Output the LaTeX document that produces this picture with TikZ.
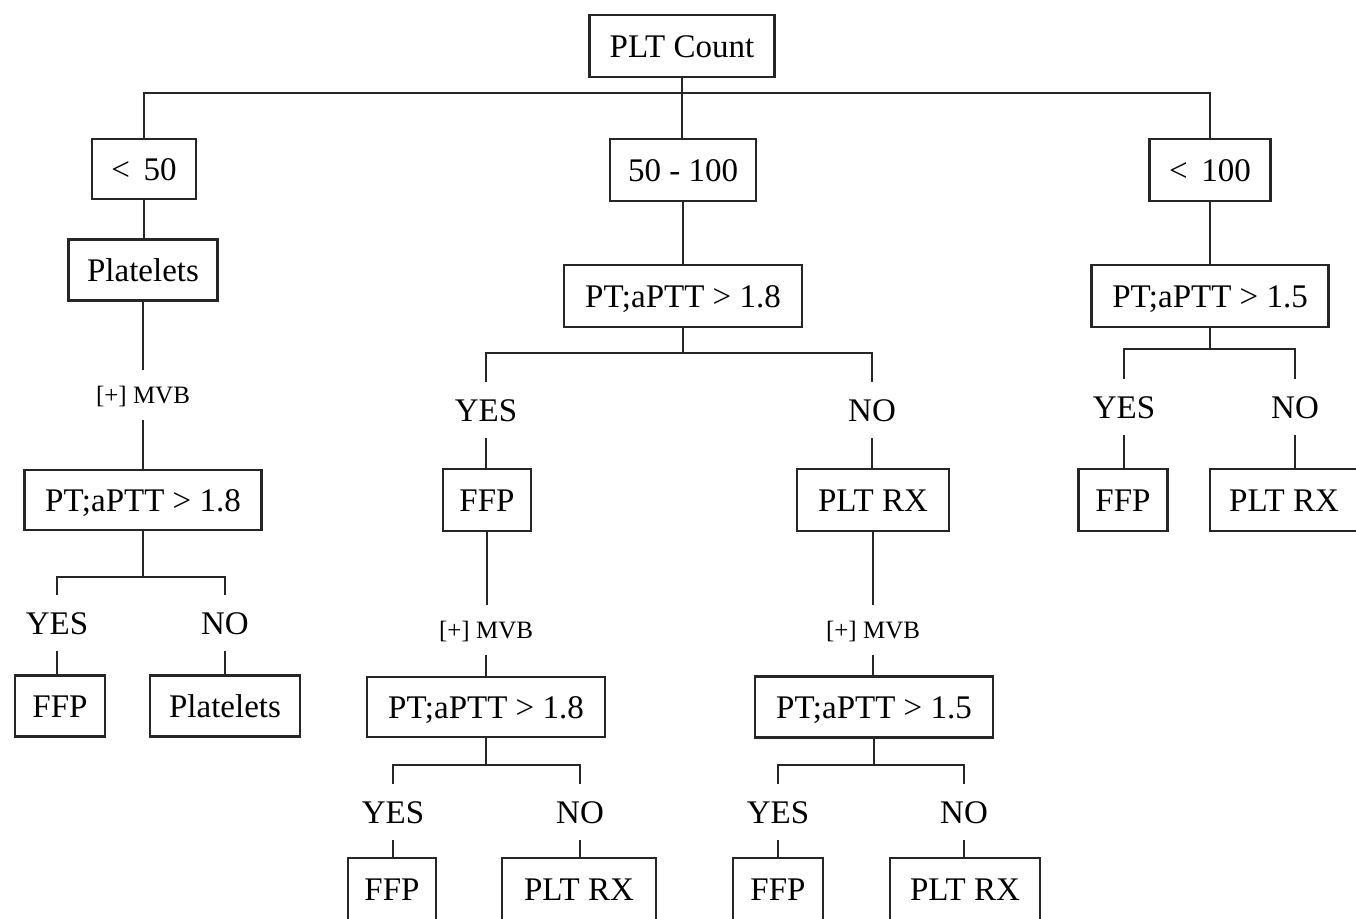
\documentclass[tikz,border=0pt]{standalone}
\usepackage{fontspec}
\setmainfont{Liberation Serif}
\begin{document}
\begin{tikzpicture}[x=1pt,y=-1pt,
  box/.style={draw=black!85, line width=2.4pt, minimum height=61pt, inner sep=0pt, font=\fontsize{33}{38}\selectfont, text height=22pt, text depth=0pt},
  lab/.style={inner xsep=4pt, inner ysep=17pt, font=\fontsize{33}{38}\selectfont, text height=22pt, text depth=0pt},
  mvb/.style={inner xsep=4pt, inner ysep=16pt, font=\fontsize{25}{29}\selectfont, text height=17pt, text depth=0pt},
  conn/.style={draw=black!85, line width=2.2pt}]
\useasboundingbox (0,0) rectangle (1356,918);
\fill[white] (0,0) rectangle (1356,918);
\clip (0,0) rectangle (1356,918);

% top level
\node[box, minimum width=185pt, minimum height=62pt] (count) at (682,46) {PLT Count};
\node[box, minimum width=104pt, minimum height=60pt] (r1) at (144,169) {<\, 50};
\node[box, minimum width=146pt, minimum height=62pt] (r2) at (683,170) {50 - 100};
\node[box, minimum width=121pt, minimum height=62pt] (r3) at (1210,170) {<\, 100};
\coordinate (j0) at (682,93);

% left branch
\node[box, minimum width=149pt] (plt1) at (143,270) {Platelets};
\node[mvb] (mvb1) at (143,395) {[+] MVB};
\node[box, minimum width=237pt, minimum height=60pt] (q1) at (143,500) {PT;aPTT > 1.8};
\coordinate (b1) at (143,577);
\node[lab] (y1) at (57,623) {YES};
\node[lab] (n1) at (225,623) {NO};
\node[box, minimum width=90pt] (f1) at (60,706) {FFP};
\node[box, minimum width=150pt] (p1) at (225,706) {Platelets};

% middle branch
\node[box, minimum width=238pt, minimum height=62pt] (q2) at (683,296) {PT;aPTT > 1.8};
\coordinate (b2) at (683,353);
\node[lab] (y2) at (486,410) {YES};
\node[lab] (n2) at (872,410) {NO};
\node[box, minimum width=88pt, minimum height=62pt] (f2) at (487,500) {FFP};
\node[box, minimum width=152pt, minimum height=62pt] (x2) at (873,500) {PLT RX};
\node[mvb] (mvb2) at (486,630) {[+] MVB};
\node[mvb] (mvb3) at (873,630) {[+] MVB};
\node[box, minimum width=238pt, minimum height=60pt] (q3) at (486,707) {PT;aPTT > 1.8};
\node[box, minimum width=238pt, minimum height=61pt] (q4) at (874,707) {PT;aPTT > 1.5};
\coordinate (b3) at (486,765);
\coordinate (b4) at (874,765);
\node[lab] (y3) at (393,812) {YES};
\node[lab] (n3) at (580,812) {NO};
\node[lab] (y4) at (778,812) {YES};
\node[lab] (n4) at (964,812) {NO};
\node[box, minimum width=88pt, minimum height=62pt] (f3) at (392,889) {FFP};
\node[box, minimum width=154pt, minimum height=62pt] (x3) at (579,889) {PLT RX};
\node[box, minimum width=90pt, minimum height=62pt] (f4) at (778,889) {FFP};
\node[box, minimum width=150pt, minimum height=62pt] (x4) at (965,889) {PLT RX};

% right branch
\node[box, minimum width=237pt, minimum height=62pt] (q5) at (1210,296) {PT;aPTT > 1.5};
\coordinate (b5) at (1210,349);
\node[lab] (y5) at (1124,407) {YES};
\node[lab] (n5) at (1295,407) {NO};
\node[box, minimum width=89pt, minimum height=62pt] (f5) at (1123,500) {FFP};
\node[box, minimum width=148pt, minimum height=62pt] (x5) at (1284,500) {PLT RX};

% connectors: top
\draw[conn] (count.south) -- (count.south |- r2.north);
\draw[conn] (r1.north) -- (r1.north |- j0) -- (r3.north |- j0) -- (r3.north);

% left
\draw[conn] (r1.south) -- (r1.south |- plt1.north);
\draw[conn] (plt1.south) -- (plt1.south |- mvb1.north);
\draw[conn] (mvb1.south) -- (mvb1.south |- q1.north);
\draw[conn] (q1.south) -- (b1);
\draw[conn] (y1.north) -- (y1.north |- b1) -- (n1.north |- b1) -- (n1.north);
\draw[conn] (y1.south) -- (y1.south |- f1.north);
\draw[conn] (n1.south) -- (n1.south |- p1.north);

% middle
\draw[conn] (r2.south) -- (r2.south |- q2.north);
\draw[conn] (q2.south) -- (b2);
\draw[conn] (y2.north) -- (y2.north |- b2) -- (n2.north |- b2) -- (n2.north);
\draw[conn] (y2.south) -- (y2.south |- f2.north);
\draw[conn] (n2.south) -- (n2.south |- x2.north);
\draw[conn] (f2.south) -- (f2.south |- mvb2.north);
\draw[conn] (mvb2.south) -- (mvb2.south |- q3.north);
\draw[conn] (x2.south) -- (x2.south |- mvb3.north);
\draw[conn] (mvb3.south) -- (mvb3.south |- q4.north);
\draw[conn] (q3.south) -- (b3);
\draw[conn] (y3.north) -- (y3.north |- b3) -- (n3.north |- b3) -- (n3.north);
\draw[conn] (y3.south) -- (y3.south |- f3.north);
\draw[conn] (n3.south) -- (n3.south |- x3.north);
\draw[conn] (q4.south) -- (b4);
\draw[conn] (y4.north) -- (y4.north |- b4) -- (n4.north |- b4) -- (n4.north);
\draw[conn] (y4.south) -- (y4.south |- f4.north);
\draw[conn] (n4.south) -- (n4.south |- x4.north);

% right
\draw[conn] (r3.south) -- (r3.south |- q5.north);
\draw[conn] (q5.south) -- (b5);
\draw[conn] (y5.north) -- (y5.north |- b5) -- (n5.north |- b5) -- (n5.north);
\draw[conn] (y5.south) -- (y5.south |- f5.north);
\draw[conn] (n5.south) -- (n5.south |- x5.north);
\end{tikzpicture}
\end{document}
